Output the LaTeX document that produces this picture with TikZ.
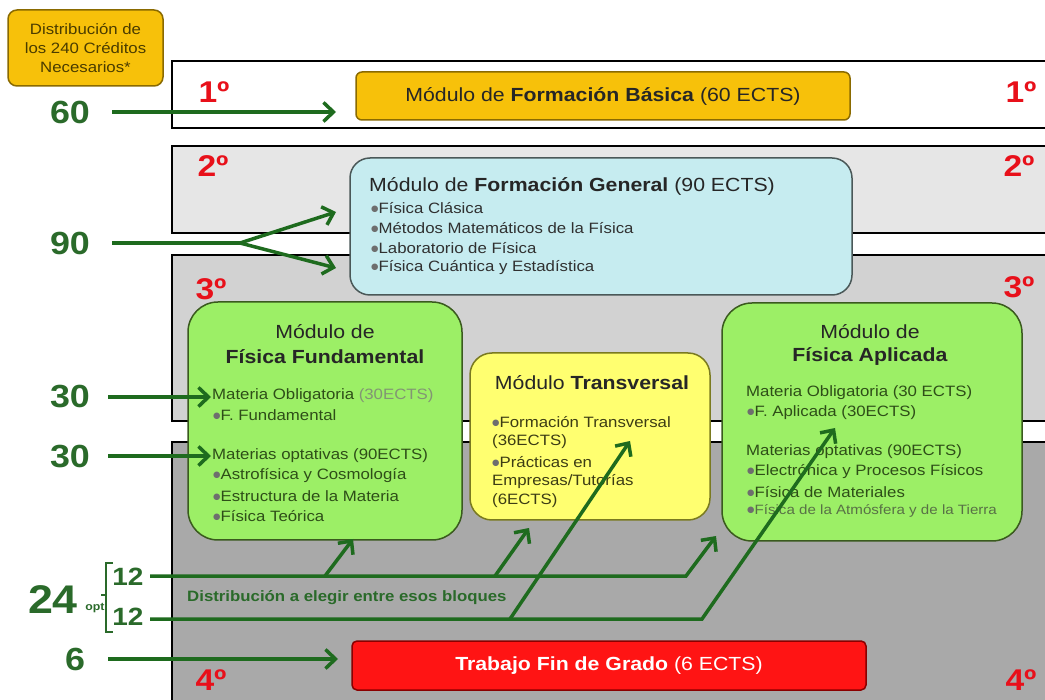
\documentclass[tikz,border=0pt]{standalone}
\usepackage{fontspec}
\setmainfont[FakeStretch=1.12]{Liberation Sans}
\newfontfamily\dejavu{DejaVu Sans}
\usetikzlibrary{arrows.meta}
\definecolor{arrgreen}{HTML}{1E6B1E}
\definecolor{numgreen}{HTML}{2A6A2A}
\definecolor{yrred}{HTML}{E8101A}
\definecolor{bandB}{HTML}{E6E6E6}
\definecolor{bandC}{HTML}{D2D2D2}
\definecolor{bandD}{HTML}{A9A9A9}
\definecolor{goldfill}{HTML}{F7C10A}
\definecolor{golddraw}{HTML}{8A6A00}
\definecolor{cyanfill}{HTML}{C6ECF0}
\definecolor{cyandraw}{HTML}{4A5858}
\definecolor{greenfill}{HTML}{9CEF66}
\definecolor{greendraw}{HTML}{3A5A1E}
\definecolor{yelfill}{HTML}{FFFF70}
\definecolor{yeldraw}{HTML}{7A7A20}
\definecolor{redfill}{HTML}{FF1414}
\definecolor{reddraw}{HTML}{8A0000}
\definecolor{itemgreen}{HTML}{2E4E18}
\definecolor{itemdark}{HTML}{303030}
\definecolor{itemolive}{HTML}{3C3C14}
\definecolor{bulgray}{HTML}{6E6E6E}
\definecolor{disttext}{HTML}{4A3C00}
\newcommand\bul{\raisebox{0.25ex}{\dejavu\fontsize{8.5}{8.5}\selectfont\textcolor{bulgray}{●}}}
\begin{document}
\begin{tikzpicture}[x=1pt,y=-1pt,
 bandline/.style={line width=2.5pt,draw=black},
 yr/.style={text=yrred,font=\fontsize{30}{30}\selectfont\bfseries,inner sep=0pt},
 num/.style={text=numgreen,font=\fontsize{32}{32}\selectfont\bfseries,inner sep=0pt},
 big num/.style={text=numgreen,font=\fontsize{40}{40}\selectfont\bfseries,inner sep=0pt},
 small num/.style={text=numgreen,font=\fontsize{25}{25}\selectfont\bfseries,inner sep=0pt},
 garrow/.style={draw=arrgreen,line width=3.5pt,-{Straight Barb[length=10pt,width=19pt]}},
 gline/.style={draw=arrgreen,line width=3.5pt},
 modbox/.style={line width=1.5pt,inner sep=0pt},
 title/.style={font=\fontsize{19}{23}\selectfont,inner sep=0pt,text=black!85},
 item/.style={font=\fontsize{15}{19}\selectfont,inner sep=0pt,anchor=west},
]
\useasboundingbox (0,0) rectangle (1045,700);
% bands
\fill[white] (172,61) rectangle (1045,128);
\draw[bandline] (1046,61) -- (172,61) -- (172,128) -- (1046,128);
\fill[bandB] (172,146) rectangle (1045,233);
\draw[bandline] (1046,146) -- (172,146) -- (172,233) -- (1046,233);
\fill[bandC] (172,255) rectangle (1045,421);
\draw[bandline] (1046,255) -- (172,255) -- (172,421) -- (1046,421);
\fill[bandD] (172,442) rectangle (1045,701);
\draw[bandline] (1046,442) -- (172,442) -- (172,701);
% year labels
\node[yr] (y1l) at (214,92) {1º};
\node[yr] (y1r) at (1021,92) {1º};
\node[yr] (y2l) at (213,166) {2º};
\node[yr] (y2r) at (1019,166) {2º};
\node[yr] (y3l) at (211,289) {3º};
\node[yr] (y3r) at (1019,287) {3º};
\node[yr] (y4l) at (211,680) {4º};
\node[yr] (y4r) at (1021,680) {4º};
% top-left box
\node[modbox,draw=golddraw,fill=goldfill,rounded corners=9pt,minimum width=155pt,minimum height=76pt,
  align=center,font=\fontsize{15}{19}\selectfont,text=disttext] (dist) at (85.5,48)
  {Distribución de\\los 240 Créditos\\Necesarios*};
% modules
\node[modbox,draw=golddraw,fill=goldfill,rounded corners=6pt,minimum width=494pt,minimum height=48pt,
  title] (basica) at (603,96) {Módulo de \textbf{Formación Básica} (60 ECTS)};
\node[modbox,draw=cyandraw,fill=cyanfill,rounded corners=20pt,minimum width=502pt,minimum height=137pt] (general) at (601,226.5) {};
\node[title,anchor=west] (gent) at (369,186) {Módulo de \textbf{Formación General} (90 ECTS)};
\node[item,text=itemdark] (g1) at (371,208) {\bul Física Clásica};
\node[item,text=itemdark] (g2) at (371,228) {\bul Métodos Matemáticos de la Física};
\node[item,text=itemdark] (g3) at (371,248) {\bul Laboratorio de Física};
\node[item,text=itemdark] (g4) at (371,268) {\bul Física Cuántica y Estadística};
% fundamental
\node[modbox,draw=greendraw,fill=greenfill,rounded corners=30pt,minimum width=274pt,minimum height=238pt] (fund) at (325,421) {};
\node[title] (fundt1) at (325,332) {Módulo de};
\node[title] (fundt2) at (325,357) {\textbf{Física Fundamental}};
\node[item,text=itemgreen] (f1) at (212,396) {Materia Obligatoria \textcolor{itemgreen!60}{(30ECTS)}};
\node[item,text=itemgreen] (f2) at (213,415) {\bul F. Fundamental};
\node[item,text=itemgreen] (f3) at (212,456) {Materias optativas (90ECTS)};
\node[item,text=itemgreen] (f4) at (213,476) {\bul Astrofísica y Cosmología};
\node[item,text=itemgreen] (f5) at (213,496) {\bul Estructura de la Materia};
\node[item,text=itemgreen] (f6) at (213,516) {\bul Física Teórica};
% transversal
\node[modbox,draw=yeldraw,fill=yelfill,rounded corners=22pt,minimum width=240pt,minimum height=167pt] (trans) at (590,436.5) {};
\node[title] (transt) at (592,383) {Módulo \textbf{Transversal}};
\node[item,text=itemolive] (t1) at (492,422) {\bul Formación Transversal};
\node[item,text=itemolive] (t2) at (492,442) {(36ECTS)};
\node[item,text=itemolive] (t3) at (492,462) {\bul Prácticas en};
\node[item,text=itemolive] (t4) at (492,482) {Empresas/Tutorías};
\node[item,text=itemolive] (t5) at (492,501) {(6ECTS)};
% aplicada
\node[modbox,draw=greendraw,fill=greenfill,rounded corners=30pt,minimum width=300pt,minimum height=238pt] (apl) at (872,422) {};
\node[title] (aplt1) at (870,332) {Módulo de};
\node[title] (aplt2) at (870,357) {\textbf{Física Aplicada}};
\node[item,text=itemgreen] (a1) at (746,393) {Materia Obligatoria (30 ECTS)};
\node[item,text=itemgreen] (a2) at (747,413) {\bul F. Aplicada (30ECTS)};
\node[item,text=itemgreen] (a3) at (746,452) {Materias optativas (90ECTS)};
\node[item,text=itemgreen] (a4) at (747,472) {\bul Electrónica y Procesos Físicos};
\node[item,text=itemgreen] (a5) at (747,492) {\bul Física de Materiales};
\node[item,text=itemgreen!80,font=\fontsize{13.5}{16}\selectfont] (a6) at (747,511) {\bul Física de la Atmósfera y de la Tierra};
% TFG
\node[modbox,draw=reddraw,fill=redfill,rounded corners=5pt,minimum width=514pt,minimum height=49pt,
  font=\fontsize{19}{23}\selectfont,text=white] (tfg) at (609,665.5) {\textbf{Trabajo Fin de Grado} (6 ECTS)};
% numbers
\node[num] (n60) at (70,112) {60};
\node[num] (n90) at (70,243) {90};
\node[num] (n30a) at (70,397) {30};
\node[num] (n30b) at (70,457) {30};
\node[big num] (n24) at (53,600) {24};
\node[inner sep=0pt,text=numgreen,font=\fontsize{11}{11}\selectfont\bfseries] (opt) at (95,608) {opt};
\node[small num] (n12a) at (128,577) {12};
\node[small num] (n12b) at (128,617) {12};
\node[num] (n6) at (75,659) {6};
\draw[numgreen,line width=2pt] (113,563) -- (106,563) -- (106,632) -- (113,632);
\draw[numgreen,line width=1.5pt] (106,595) -- (101,595);
\node[inner sep=0pt,anchor=west,text=numgreen,font=\fontsize{15}{18}\selectfont\bfseries] (elegir) at (187,598) {Distribución a elegir entre esos bloques};
% arrow coordinates
\coordinate (s60) at (112,112); \coordinate (e60) at (336,112);
\coordinate (s90) at (112,243); \coordinate (k90) at (240,243);
\coordinate (e90a) at (336,212); \coordinate (e90b) at (336,268);
\coordinate (s30a) at (108,397); \coordinate (e30a) at (211,397);
\coordinate (s30b) at (108,456); \coordinate (e30b) at (211,456);
\coordinate (s6) at (108,659); \coordinate (e6) at (338,659);
\coordinate (s12a) at (150,576); \coordinate (k12a) at (686,576); \coordinate (e12a) at (716,536);
\coordinate (b1) at (325,576); \coordinate (e12f) at (353,539);
\coordinate (b2) at (495,576); \coordinate (e12t) at (529,528);
\coordinate (s12b) at (150,619); \coordinate (k12b) at (702,619); \coordinate (e12p) at (835,428);
\coordinate (b3) at (510,619); \coordinate (e12tt) at (630,441);
% arrows
\draw[garrow] (s60) -- (e60);
\draw[gline] (s90) -- (k90);
\draw[garrow] (k90) -- (e90a);
\draw[garrow] (k90) -- (e90b);
\draw[garrow] (s30a) -- (e30a);
\draw[garrow] (s30b) -- (e30b);
\draw[garrow] (s6) -- (e6);
\draw[garrow] (s12a) -- (k12a) -- (e12a);
\draw[garrow] (b1) -- (e12f);
\draw[garrow] (b2) -- (e12t);
\draw[garrow] (s12b) -- (k12b) -- (e12p);
\draw[garrow] (b3) -- (e12tt);
\end{tikzpicture}
\end{document}
